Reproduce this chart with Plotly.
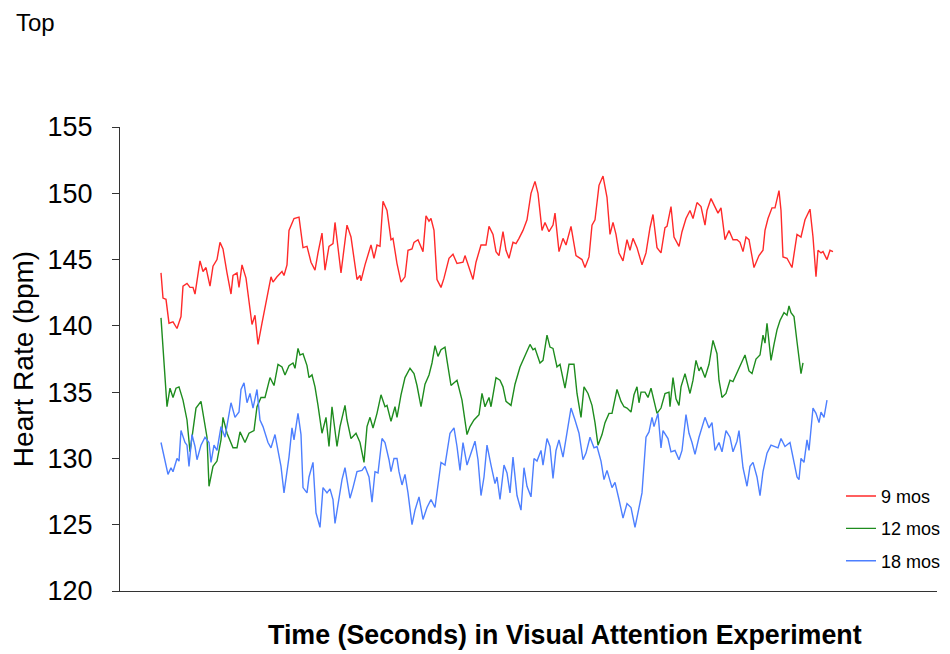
import plotly.graph_objects as go

# Time (s, relative) and heart rate (bpm)
t_9 = [1,3,6,9,13,17,21,23,27,30,33,35,40,43,46,50,53,57,60,63,67,71,73,77,79,82,86,89,92,95,98,102,106,111,113,117,122,124,127,129,134,139,143,147,151,155,158,162,165,169,173,175,181,187,191,197,200,201,205,211,214,217,220,223,227,231,233,237,241,245,248,252,254,258,263,266,269,271,274,277,281,284,289,293,297,303,305,309,313,316,321,326,329,333,336,339,343,346,349,353,356,359,363,367,371,375,378,382,385,389,393,395,399,403,406,411,416,422,425,429,432,435,439,443,447,450,453,456,459,463,467,470,473,477,482,486,490,493,497,501,505,507,511,514,519,522,526,530,533,537,541,545,547,551,555,558,561,565,569,573,577,580,583,586,589,594,599,603,605,608,612,615,619,621,623,627,632,637,641,645,650,653,656,658,661,663,667,670,673]
hr_9 = [144.0,142.1,142.0,140.2,140.3,139.8,140.7,143.0,143.2,142.9,142.9,142.4,144.9,144.1,144.4,143.0,144.5,145.0,146.3,145.8,144.0,142.4,143.8,144.0,142.9,144.6,143.6,142.0,140.1,140.8,138.6,140.2,141.7,143.7,143.3,143.7,144.1,143.8,144.6,147.2,148.1,148.2,145.9,146.0,144.8,144.2,145.5,147.0,144.2,146.0,146.2,147.8,144.0,147.6,146.7,143.5,143.8,143.4,144.6,146.1,145.1,146.1,146.0,149.4,148.7,146.5,146.6,144.7,143.3,143.7,145.7,145.8,146.3,146.5,145.6,148.3,147.9,148.1,147.2,143.5,142.9,143.6,145.1,145.4,144.7,144.8,145.3,144.4,143.5,144.8,146.1,146.1,147.5,146.9,145.6,145.3,147.1,145.7,145.1,146.3,146.2,146.6,147.2,148.0,150.0,150.9,150.0,147.2,147.8,147.1,147.6,148.5,145.6,146.6,146.1,147.5,145.3,145.0,144.4,145.2,147.6,148.0,150.6,151.3,149.7,146.9,147.8,146.9,145.5,144.9,146.5,145.7,146.6,145.9,144.6,145.5,147.4,148.4,145.9,145.5,147.4,147.5,149.0,146.7,146.0,147.1,148.1,148.7,148.1,149.3,149.0,147.6,148.7,149.6,148.9,148.5,148.9,146.5,147.2,146.5,146.5,146.3,145.6,146.7,146.5,144.4,145.3,145.7,147.2,148.1,148.9,148.9,150.2,148.7,145.2,145.1,144.4,146.9,146.7,148.0,148.8,146.7,143.7,145.7,145.5,145.6,145.0,145.7,145.6]

t_12 = [1,4,7,10,13,16,19,23,27,30,33,36,41,44,47,49,53,57,61,63,67,73,77,80,85,89,94,97,101,105,110,114,118,122,125,129,133,135,138,140,143,147,149,152,155,158,162,166,169,172,175,177,180,185,187,191,196,200,204,207,210,213,217,221,225,227,231,235,237,241,245,250,254,257,261,265,269,272,275,278,281,285,287,291,297,302,307,310,314,319,322,325,329,331,336,340,343,346,351,355,360,365,370,373,375,380,383,387,390,393,397,400,405,409,414,417,421,424,428,432,435,438,442,445,449,452,457,461,464,467,471,474,477,479,481,485,488,491,494,497,501,505,509,510,513,516,519,521,525,527,530,533,536,539,541,545,549,553,557,559,562,566,570,573,577,581,585,589,592,596,600,603,605,607,611,614,617,620,624,627,629,631,634,637,641,643]
hr_12 = [140.6,137.4,133.9,135.3,134.6,135.3,135.4,134.4,132.9,130.5,132.3,133.8,134.3,132.9,131.6,127.9,129.4,129.8,131.4,133.1,131.9,130.8,130.8,132.0,131.2,131.9,132.1,133.9,134.6,134.6,136.1,135.5,137.1,136.9,136.3,137.0,137.2,136.8,138.3,137.8,137.9,137.0,136.1,136.3,135.4,134.0,131.9,133.1,130.9,133.9,132.1,130.9,132.4,134.0,132.9,131.5,131.9,131.2,129.7,132.4,133.1,132.3,133.4,134.8,133.9,134.0,132.8,133.9,133.1,134.8,136.1,136.8,136.4,135.5,133.9,135.6,136.3,137.2,138.5,137.7,138.2,138.4,137.4,135.5,135.9,134.4,131.8,132.4,132.9,133.3,134.9,133.9,134.6,133.9,136.1,135.9,135.4,134.3,134.0,135.6,136.9,137.7,138.6,138.2,138.3,137.2,137.4,139.3,138.4,138.3,136.9,137.1,135.3,137.1,137.1,134.9,133.1,135.4,134.9,134.0,132.7,131.0,131.8,132.7,133.4,133.4,135.2,134.3,133.9,133.8,133.5,134.8,135.4,134.2,135.0,135.0,134.6,135.3,134.4,133.4,133.8,134.9,135.0,133.9,136.1,134.5,134.0,135.4,136.4,135.7,134.9,135.9,137.4,136.6,136.9,136.1,137.1,138.9,137.9,135.9,134.6,134.9,135.9,135.8,136.5,137.1,137.8,136.6,136.4,137.5,137.8,139.3,138.7,140.2,137.4,138.6,139.7,140.4,141.0,140.8,141.5,141.0,140.7,138.8,136.4,137.2]

t_18 = [1,4,8,11,13,17,19,21,25,27,29,32,35,37,41,45,49,51,54,57,61,65,68,71,75,79,81,84,87,90,93,97,100,103,108,111,115,117,121,124,127,129,132,134,138,141,143,147,149,153,156,160,163,167,170,173,175,179,182,185,190,193,197,202,205,209,212,215,218,222,225,229,231,234,237,239,242,245,248,252,255,259,263,267,271,275,279,281,285,290,294,297,300,303,307,311,315,318,321,324,327,331,335,337,340,344,347,350,353,357,361,364,367,371,374,377,381,383,387,390,393,396,399,403,407,411,415,419,423,426,430,434,437,441,444,447,452,455,459,463,467,471,475,479,482,486,489,492,494,498,501,503,508,511,515,519,522,526,529,532,535,539,542,545,549,552,555,559,562,566,570,573,577,579,583,587,590,593,597,600,603,607,611,614,618,621,625,630,633,637,639,641,644,647,649,653,656,659,661,664,667]
hr_18 = [131.2,130.1,128.8,129.3,129.0,130.0,129.8,132.1,131.2,131.0,129.4,131.8,130.9,129.9,131.0,131.6,131.2,129.7,131.0,130.6,132.4,131.6,132.9,134.2,133.1,133.5,135.2,135.7,134.2,134.9,133.8,135.2,132.9,132.4,131.2,130.8,131.8,130.9,129.4,127.4,129.1,130.1,132.3,131.4,133.4,131.8,127.8,127.4,128.6,129.7,125.9,124.8,127.8,127.4,127.7,126.9,125.1,127.0,128.4,129.3,127.0,127.8,129.0,129.1,129.4,128.6,126.7,129.0,128.9,131.5,131.2,129.9,129.0,130.0,130.0,129.0,128.0,128.8,127.4,125.0,126.1,127.1,125.4,126.3,126.9,126.3,128.4,129.7,129.5,131.9,132.3,130.9,129.1,131.2,129.5,130.4,131.3,129.9,127.2,128.6,131.0,129.5,128.1,128.6,126.9,129.5,128.9,127.4,130.1,127.2,126.1,129.3,127.9,127.1,130.0,129.8,130.6,129.5,131.5,130.9,128.5,130.6,131.4,130.1,131.9,133.8,132.9,131.9,129.9,130.4,131.6,130.8,130.9,129.8,128.4,129.1,127.8,128.2,126.9,125.5,126.6,126.3,124.8,126.3,127.4,131.6,132.0,133.1,132.4,133.4,130.8,132.1,131.5,130.5,130.6,129.9,130.6,133.3,131.9,131.2,130.3,131.6,132.3,133.1,132.3,132.7,130.6,131.2,130.5,132.1,131.6,130.5,131.3,132.1,129.3,127.9,129.4,129.7,128.6,127.2,129.0,130.4,131.0,130.9,130.8,131.5,130.9,131.2,130.0,128.6,128.4,130.0,129.7,131.4,130.6,133.8,133.4,132.7,133.5,133.1,134.4]

series_names = ["9 mos", "12 mos", "18 mos"]
series_colors = ["#FF2A2A", "#1E8C1E", "#4D7FFF"]
y_ticks = [120, 125, 130, 135, 140, 145, 150, 155]

FONT = "Liberation Sans, Arial, sans-serif"

fig = go.Figure()
for name, tt, hh, col in zip(series_names, [t_9, t_12, t_18], [hr_9, hr_12, hr_18], series_colors):
    fig.add_trace(go.Scatter(x=tt, y=hh, mode="lines", name=name, legendgroup=name,
                             line=dict(color=col, width=1.4)))

fig.update_layout(
    width=942, height=646,
    margin=dict(l=112, r=13, t=119, b=63, autoexpand=False),
    paper_bgcolor="white", plot_bgcolor="white",
    font=dict(family=FONT, color="black"),
    showlegend=True,
    legend=dict(x=0.8825, y=0.244, xanchor="left", yanchor="top",
                bgcolor="rgba(0,0,0,0)", font=dict(size=18, family=FONT),
                tracegroupgap=6, itemwidth=30),
    annotations=[
        dict(text="Top", xref="paper", yref="paper", x=-0.1283, y=1.2565,
             xanchor="left", yanchor="top", showarrow=False, borderpad=0,
             font=dict(size=24, family=FONT, color="black")),
        dict(text="<b>Time (Seconds) in Visual Attention Experiment</b>", xref="paper", yref="paper",
             x=0.5447, y=-0.094, xanchor="center", yanchor="middle", showarrow=False,
             font=dict(size=26.8, family=FONT, color="black")),
    ],
)
fig.update_xaxes(range=[-40, 777], showgrid=False, zeroline=False, showticklabels=False,
                 ticks="", showline=True, linecolor="#333", linewidth=1)
fig.update_yaxes(range=[120, 155], tickvals=y_ticks, showgrid=False, zeroline=False,
                 ticks="outside", ticklen=7, tickcolor="#333", tickwidth=1,
                 showline=True, linecolor="#333", linewidth=1,
                 tickfont=dict(size=27, family=FONT, color="black"), ticklabelstandoff=14,
                 title=dict(text="Heart Rate (bpm)", font=dict(size=28, family=FONT, color="black"),
                            standoff=8))

fig.write_html("out.html")
